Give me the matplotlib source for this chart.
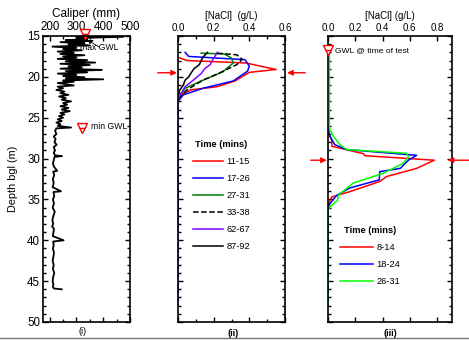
import matplotlib
matplotlib.use("Agg")
import matplotlib.pyplot as plt
from matplotlib.ticker import MultipleLocator
from matplotlib.lines import Line2D

plt.rcParams['font.family'] = ['Liberation Sans', 'DejaVu Sans']

# caliper log, panel (i)
cal_depth = [15.0, 15.1, 15.25, 15.4, 15.5, 15.6, 15.75, 15.9, 16.0, 16.15, 16.3, 16.45,
             16.6, 16.75, 16.9, 17.05, 17.2, 17.35, 17.5, 17.65, 17.8, 17.95, 18.1, 18.25,
             18.4, 18.55, 18.7, 18.85, 19.0, 19.15, 19.3, 19.45, 19.6, 19.75, 19.9, 20.05,
             20.2, 20.3, 20.45, 20.6, 20.75, 20.9, 21.05, 21.2, 21.4, 21.6, 21.8, 22.0,
             22.2, 22.4, 22.6, 22.8, 23.0, 23.2, 23.4, 23.6, 23.8, 24.0, 24.2, 24.4,
             24.6, 24.8, 25.0, 25.2, 25.4, 25.6, 25.8, 26.0, 26.2, 26.3, 26.6, 27.0,
             27.3, 27.6, 28.0, 28.3, 28.6, 29.0, 29.3, 29.6, 29.7, 29.8, 30.2, 30.6,
             31.0, 31.5, 31.6, 32.0, 32.5, 33.0, 33.5, 34.0, 34.1, 34.6, 35.0, 35.5,
             36.0, 36.5, 37.0, 37.5, 38.0, 38.3, 38.6, 39.0, 39.5, 40.0, 40.15, 40.6,
             41.0, 41.5, 42.0, 42.5, 43.0, 43.5, 44.0, 44.5, 45.0, 45.4, 45.7, 45.9, 46.0]
cal_mm = [300, 475, 300, 340, 260, 360, 240, 330, 270, 350, 210, 300,
          250, 320, 230, 290, 240, 330, 250, 300, 230, 340, 260, 370,
          240, 350, 270, 320, 240, 395, 260, 340, 230, 300, 250, 330,
          260, 400, 250, 290, 230, 260, 290, 230, 250, 225, 255, 240,
          270, 235, 260, 245, 280, 250, 265, 240, 270, 245, 275, 240,
          255, 235, 250, 230, 245, 225, 240, 230, 280, 225, 220, 225,
          215, 222, 218, 226, 215, 220, 215, 220, 246, 218, 215, 212,
          216, 228, 213, 217, 212, 215, 211, 242, 214, 217, 212, 216,
          211, 219, 214, 210, 213, 209, 216, 214, 212, 252, 213, 215,
          212, 216, 214, 211, 215, 212, 217, 213, 211, 214, 212, 216, 245]

# panel (ii) NaCl profiles
ii_labels = ['11-15', '17-26', '27-31', '33-38', '62-67', '87-92']
ii_depth = [
    [17.6, 18.0, 18.3, 19.1, 19.45, 20.5, 21.2, 21.6, 22.2, 22.8, 48.0],
    [17.0, 17.5, 17.9, 18.7, 19.3, 20.5, 21.4, 22.2, 23.0, 48.0],
    [17.1, 17.2, 17.7, 18.3, 19.4, 20.6, 21.4, 22.4, 23.0, 48.0],
    [17.1, 17.3, 17.85, 18.5, 19.5, 20.4, 21.6, 22.5, 23.0, 48.0],
    [17.0, 17.4, 17.7, 18.1, 18.5, 19.0, 19.6, 20.4, 21.2, 22.5, 23.2, 48.0],
    [17.0, 17.6, 18.0, 18.5, 19.0, 19.4, 20.0, 20.4, 21.0, 21.6, 22.3],
]
ii_nacl = [
    [0.0, 0.05, 0.38, 0.55, 0.40, 0.32, 0.22, 0.07, 0.02, 0.0, 0.0],
    [0.04, 0.06, 0.376, 0.40, 0.39, 0.31, 0.14, 0.03, 0.0, 0.0],
    [0.13, 0.26, 0.30, 0.31, 0.25, 0.12, 0.04, 0.01, 0.0, 0.0],
    [0.22, 0.33, 0.36, 0.33, 0.235, 0.14, 0.05, 0.01, 0.0, 0.0],
    [0.22, 0.21, 0.20, 0.19, 0.18, 0.15, 0.13, 0.086, 0.04, 0.005, 0.0, 0.0],
    [0.165, 0.14, 0.13, 0.12, 0.09, 0.077, 0.06, 0.04, 0.03, 0.01, 0.0],
]
ii_colors = ['#ff0000', '#0000ff', '#008000', 'black', '#8000ff', 'black']
ii_styles = ['-', '-', '-', '--', '-', '-']

# panel (iii) NaCl profiles
iii_labels = ['8-14', '18-24', '26-31']
iii_depth = [
    [26.9, 27.7, 28.5, 29.4, 29.65, 30.2, 31.2, 32.2, 32.8, 34.05, 34.7, 35.7, 48.0],
    [26.3, 27.3, 28.3, 28.9, 29.6, 30.2, 31.2, 31.6, 32.6, 33.6, 34.5, 35.5, 36.0, 48.0],
    [16.7, 20.0, 24.0, 26.3, 27.3, 28.3, 28.9, 29.35, 29.8, 30.6, 31.8, 33.0, 34.5,
     35.1, 35.9, 36.3, 48.0],
]
iii_nacl = [
    [0.0, 0.027, 0.03, 0.26, 0.27, 0.78, 0.65, 0.43, 0.38, 0.16, 0.027, 0.0, 0.0],
    [0.0, 0.015, 0.05, 0.137, 0.65, 0.59, 0.53, 0.38, 0.376, 0.16, 0.064, 0.015, 0.0, 0.0],
    [0.01, 0.01, 0.01, 0.01, 0.04, 0.088, 0.137, 0.576, 0.59, 0.55, 0.405, 0.185, 0.075,
     0.07, 0.015, 0.0, 0.0],
]
iii_colors = ['#ff0000', '#0000ff', '#00ff00']

W, H = 469, 340
fig = plt.figure(figsize=(W / 100, H / 100), dpi=100)


def px_axes(left, right, top, bottom):
    return fig.add_axes([left / W, (H - bottom) / H, (right - left) / W, (bottom - top) / H])


def style_axes(ax, fs):
    ax.set_ylim(50, 15)
    ax.yaxis.set_major_locator(MultipleLocator(5))
    ax.yaxis.set_minor_locator(MultipleLocator(1))
    ax.tick_params(which='both', direction='in', top=True, bottom=True, left=True, right=True,
                   labeltop=True, labelbottom=False, labelsize=fs, width=1, pad=2)
    ax.tick_params(which='major', length=3.5)
    ax.tick_params(which='minor', length=2)
    ax.xaxis.set_label_position('top')
    for s in ax.spines.values():
        s.set_linewidth(1.2)


# (i) caliper
ax1 = px_axes(43, 130, 36, 322)
ax1.plot(cal_mm, cal_depth, color='black', lw=1.3)
ax1.set_xlim(175, 500)
ax1.set_xticks([200, 300, 400, 500])
ax1.xaxis.set_minor_locator(MultipleLocator(50))
style_axes(ax1, 8.3)
ax1.set_xlabel('Caliper (mm)', fontsize=8.5, labelpad=3)
ax1.set_ylabel('Depth bgl (m)', fontsize=7.8, labelpad=7)
ax1.plot([332], [14.75], marker='v', ms=7, mfc='white', mec='red', mew=1, clip_on=False)
ax1.plot([332], [14.75], marker='_', ms=5, mec='red', mew=1, clip_on=False)
ax1.annotate('max GWL', xy=(340, 15.5), xytext=(314, 16.35), fontsize=6.2, va='center',
             arrowprops=dict(arrowstyle='-|>', color='black', lw=0.6, mutation_scale=6,
                             shrinkA=0, shrinkB=0))
ax1.plot([320], [26.2], marker='v', ms=7, mfc='white', mec='red', mew=1)
ax1.plot([320], [26.2], marker='_', ms=5, mec='red', mew=1)
ax1.text(356, 26.1, 'min GWL', fontsize=6.2, va='center')

# (ii) NaCl profiles
ax2 = px_axes(178, 285, 36, 322)
for d, v, c, ls, lab in zip(ii_depth, ii_nacl, ii_colors, ii_styles, ii_labels):
    ax2.plot(v, d, color=c, ls=ls, lw=1.1, label=lab)
ax2.set_xlim(0, 0.6)
ax2.set_xticks([0.0, 0.2, 0.4, 0.6])
ax2.xaxis.set_minor_locator(MultipleLocator(0.1))
ax2.xaxis.set_major_formatter(matplotlib.ticker.FormatStrFormatter('%.1f'))
style_axes(ax2, 7)
ax2.set_yticklabels([])
ax2.set_xlabel('[NaCl]  (g/L)', fontsize=7, labelpad=3)
ax2.legend(loc='upper left', bbox_to_anchor=(0.14, 0.635), frameon=False, fontsize=6.7,
           title='Time (mins)', title_fontproperties={'weight': 'bold', 'size': 6.7},
           handlelength=3.2, handletextpad=0.4, labelspacing=0.85, borderpad=0,
           borderaxespad=0)

# (iii) NaCl profiles
ax3 = px_axes(328, 452, 36, 322)
for d, v, c, lab in zip(iii_depth, iii_nacl, iii_colors, iii_labels):
    ax3.plot(v, d, color=c, lw=1.1, label=lab)
ax3.set_xlim(0, 0.91)
ax3.set_xticks([0.0, 0.2, 0.4, 0.6, 0.8])
ax3.xaxis.set_major_formatter(matplotlib.ticker.FormatStrFormatter('%.1f'))
style_axes(ax3, 7)
ax3.set_yticklabels([])
ax3.set_xlabel('[NaCl] (g/L)', fontsize=7, labelpad=3)
ax3.plot([0.0], [16.7], marker='v', ms=7, mfc='white', mec='red', mew=1, clip_on=False, zorder=5)
ax3.plot([0.0], [16.7], marker='_', ms=5, mec='red', mew=1, clip_on=False, zorder=5)
ax3.text(0.05, 16.8, 'GWL @ time of test', fontsize=6.1, va='center')
ax3.legend(loc='upper left', bbox_to_anchor=(0.10, 0.335), frameon=False, fontsize=6.7,
           title='Time (mins)', title_fontproperties={'weight': 'bold', 'size': 6.7},
           handlelength=3.5, handletextpad=0.4, labelspacing=0.85, borderpad=0,
           borderaxespad=0)

# red arrows marking injection depth
arrow = dict(arrowstyle='-|>', color='red', lw=1, mutation_scale=8, shrinkA=0, shrinkB=0)
for ax, y, tails, heads in [(ax2, 19.5, (-0.19, 1.19), (-0.01, 1.02)),
                            (ax3, 30.2, (-0.14, 1.137), (-0.01, 0.965))]:
    for t, h in zip(tails, heads):
        ax.annotate('', xy=(h, y), xytext=(t, y), xycoords=('axes fraction', 'data'),
                    textcoords=('axes fraction', 'data'), arrowprops=arrow,
                    annotation_clip=False)

fig.text(83 / W, 1 - 332 / H, '(i)', fontsize=6.5, ha='center', va='center')
fig.text(233 / W, 1 - 333 / H, '(ii)', fontsize=6.5, ha='center', va='center', weight='bold')
fig.text(390 / W, 1 - 334 / H, '(iii)', fontsize=6.5, ha='center', va='center', weight='bold')
fig.add_artist(Line2D([0, 1], [2 / H, 2 / H], color='#777777', lw=1))

fig.savefig('out.png', dpi=100)
